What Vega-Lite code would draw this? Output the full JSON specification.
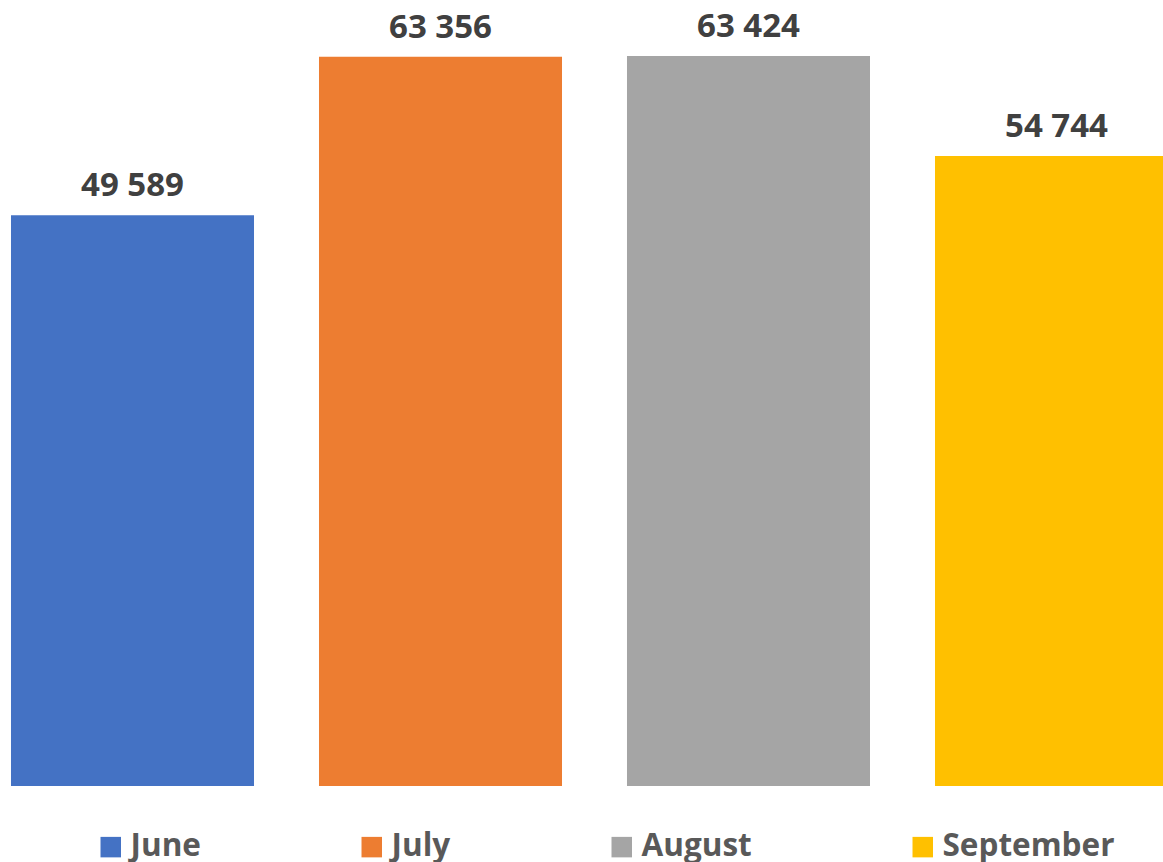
{
  "$schema": "https://vega.github.io/schema/vega-lite/v6.json",
  "width": 1163,
  "height": 786,
  "padding": 0,
  "background": "white",
  "data": {
    "values": [
      {"month": "June", "value": 49589},
      {"month": "July", "value": 63356},
      {"month": "August", "value": 63424},
      {"month": "September", "value": 54744}
    ]
  },
  "encoding": {
    "x": {
      "field": "month",
      "type": "nominal",
      "sort": ["June", "July", "August", "September"],
      "scale": {"range": [0, 1189], "paddingInner": 0.211, "paddingOuter": 0.0357},
      "axis": null
    },
    "y": {
      "field": "value",
      "type": "quantitative",
      "scale": {"domain": [0, 68290], "nice": false, "zero": true},
      "axis": null
    }
  },
  "layer": [
    {
      "mark": {"type": "bar", "clip": true},
      "encoding": {
        "color": {
          "field": "month",
          "type": "nominal",
          "sort": ["June", "July", "August", "September"],
          "scale": {
            "domain": ["June", "July", "August", "September"],
            "range": ["#4472C4", "#ED7D31", "#A5A5A5", "#FFC000"]
          },
          "legend": {
            "title": null,
            "orient": "none",
            "legendX": 95,
            "legendY": 831,
            "direction": "horizontal",
            "symbolType": "square",
            "symbolSize": 420,
            "symbolStrokeWidth": 0,
            "symbolOpacity": 1,
            "labelFont": "Open Sans",
            "labelFontSize": 31.5,
            "labelFontWeight": "bold",
            "labelColor": "#595959",
            "labelOffset": 4,
            "columnPadding": 155,
            "labelLimit": 400
          }
        }
      }
    },
    {
      "mark": {
        "type": "text",
        "font": "Open Sans",
        "fontSize": 33,
        "fontWeight": "bold",
        "color": "#404040",
        "baseline": "alphabetic",
        "align": "center",
        "dy": -19
      },
      "encoding": {
        "text": {"field": "value", "type": "quantitative", "format": ",d"}
      }
    }
  ],
  "config": {
    "view": {"stroke": null},
    "locale": {
      "number": {
        "decimal": ".",
        "thousands": " ",
        "grouping": [3],
        "currency": ["", ""]
      }
    }
  }
}
